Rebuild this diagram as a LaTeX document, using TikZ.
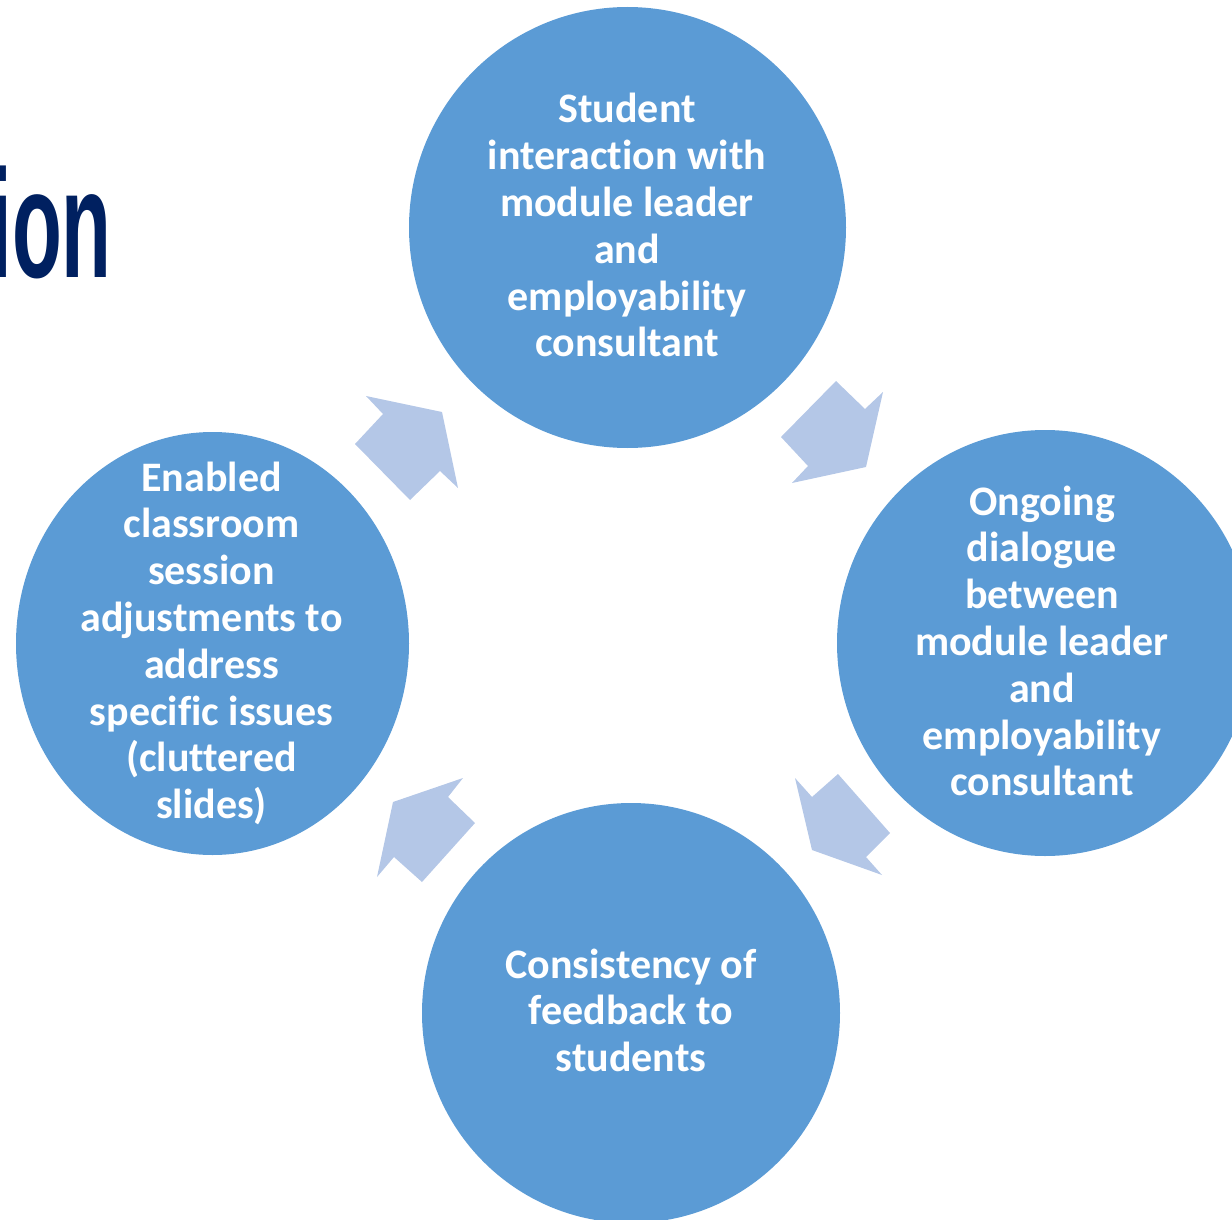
\documentclass[tikz,border=0pt]{standalone}
\usepackage{fontspec}
\setmainfont{Carlito}[Ligatures={NoCommon}]
\newfontfamily\titlefont{Liberation Sans}
\usetikzlibrary{shapes.geometric}
\definecolor{circblue}{HTML}{5B9BD5}
\definecolor{arrblue}{HTML}{B4C7E7}
\definecolor{navy}{HTML}{002060}
\begin{document}
\begin{tikzpicture}[x=1pt,y=-1pt,
  circ/.style={ellipse, fill=circblue, draw=none, inner sep=0pt},
  ctext/.style={text=white, inner sep=0pt, anchor=base,
    font=\fontsize{42}{46.8}\selectfont\bfseries},
  blockarrow/.style={fill=arrblue, draw=none}]
\useasboundingbox (0,0) rectangle (1232,1220);
\clip (0,0) rectangle (1232,1220);
% title fragment
\node[text=navy, inner sep=0pt, anchor=base east] (title) at (112,277)
  {\titlefont\bfseries\fontsize{154}{160}\selectfont\scalebox{0.53}[1]{ion}};
% circles
\node[circ, minimum width=437pt, minimum height=441pt] (top) at (627.5,227.5) {};
\node[circ, minimum width=416pt, minimum height=426pt] (right) at (1045,643) {};
\node[circ, minimum width=418pt, minimum height=420pt] (bottom) at (631,1013) {};
\node[circ, minimum width=393pt, minimum height=423pt] (left) at (212.5,643.5) {};
% texts
\node[ctext] (ttop) at (627,123) {\begin{tabular}[t]{@{}c@{}}Student\\interaction with\\module leader\\and\\employability\\consultant\end{tabular}};
\node[ctext] (tright) at (1042,515) {\begin{tabular}[t]{@{}c@{}}Ongoing\\dialogue\\between\\module leader\\and\\employability\\consultant\end{tabular}};
\node[ctext] (tbottom) at (631,978) {\begin{tabular}[t]{@{}c@{}}Consistency of\\feedback to\\students\end{tabular}};
\node[ctext] (tleft) at (211.5,491) {\begin{tabular}[t]{@{}c@{}}Enabled\\classroom\\session\\adjustments to\\address\\specific issues\\(cluttered\\slides)\end{tabular}};
% block arrows
\fill[blockarrow] (366,396) -- (442,412) -- (458,488) -- (440,471) -- (410,500) -- (355,444) -- (383,414) -- cycle;
\fill[blockarrow] (836,381) -- (865,409) -- (883,392) -- (866,467) -- (792,483) -- (808,466) -- (781,437) -- cycle;
\fill[blockarrow] (795,778) -- (812,797) -- (838,774) -- (890,833) -- (866,857) -- (882,875) -- (812,850) -- cycle;
\fill[blockarrow] (463,778) -- (448,797) -- (475,823) -- (422,882) -- (394,857) -- (377,877) -- (393,802) -- cycle;
\end{tikzpicture}
\end{document}
